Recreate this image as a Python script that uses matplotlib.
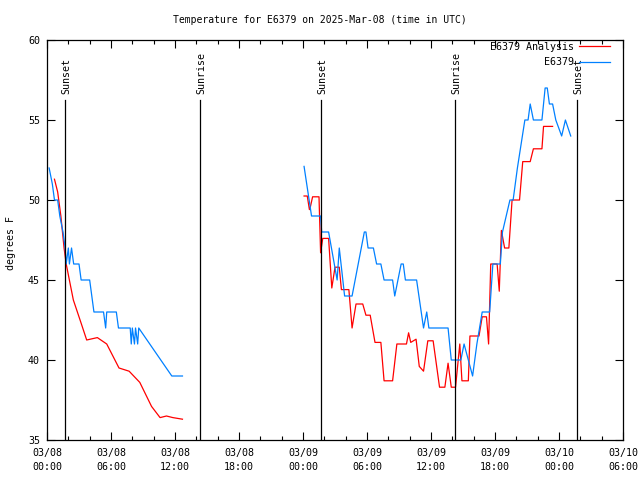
import numpy as np
import matplotlib
matplotlib.use("Agg")
import matplotlib.pyplot as plt

# horas desde 2025-03-08 00:00 UTC
analisis_t = [0.7, 1.0, 1.3, 1.6, 1.8, 2.47, 3.2, 3.72, 4.72, 5.6, 6.75, 7.7, 8.7, 9.8,
              10.6, 11.2, 11.8, 12.7, np.nan,
              24.1, 24.4, 24.6, 24.7, 24.9, 25.5, 25.65, 25.85, 26.4, 26.7, 27.0, 27.4,
              27.6, 28.3, 28.6, 28.97, 29.6, 29.9, 30.3, 30.75, 31.3, 31.6, 32.4, 32.8,
              33.7, 33.9, 34.1, 34.6, 34.9, 35.3, 35.7, 36.2, 36.8, 37.3, 37.6, 37.9,
              38.3, 38.7, 38.9, 39.5, 39.65, 40.5, 40.8, 41.2, 41.4, 41.6, 42.2, 42.4,
              42.6, 42.9, 43.3, 43.6, 44.3, 44.6, 45.3, 45.6, 46.4, 46.55, 47.4]
analisis_temp = [51.3, 50.5, 49, 47, 46, 43.75, 42.3, 41.25, 41.4, 41.0, 39.5, 39.3, 38.6,
                 37.1, 36.4, 36.5, 36.4, 36.3, np.nan,
                 50.25, 50.25, 49.4, 49.6, 50.2, 50.2, 46.7, 47.6, 47.6, 44.5, 45.8, 45.8,
                 44.4, 44.4, 42.0, 43.5, 43.5, 42.8, 42.8, 41.1, 41.1, 38.7, 38.7, 41.0,
                 41.0, 41.7, 41.1, 41.3, 39.6, 39.3, 41.2, 41.2, 38.3, 38.3, 39.8, 38.3,
                 38.3, 41.0, 38.7, 38.7, 41.5, 41.5, 42.7, 42.7, 41.0, 46.0, 46.0, 44.3,
                 48.1, 47.0, 47.0, 50.0, 50.0, 52.4, 52.4, 53.2, 53.2, 54.6, 54.6]

obs_t = [0.2, 0.5, 0.7, 1.0, 1.2, 1.5, 1.7, 1.8, 2.0, 2.1, 2.3, 2.5, 3.0, 3.2, 4.0, 4.4,
         5.3, 5.5, 5.6, 6.5, 6.7, 7.8, 7.9, 8.0, 8.2, 8.3, 8.5, 8.6, 11.7, 12.7, np.nan,
         24.1, 24.8, 25.65, 25.75, 26.4, 27.2, 27.4, 27.9, 28.6, 29.75, 29.9, 30.1, 30.6,
         30.9, 31.3, 31.6, 32.4, 32.6, 33.2, 33.4, 33.6, 34.65, 35.3, 35.6, 35.8, 37.6,
         37.9, 38.8, 39.1, 39.5, 39.9, 40.3, 40.8, 41.5, 41.8, 42.5, 42.7, 43.4, 43.7,
         44.1, 44.8, 45.1, 45.3, 45.6, 46.4, 46.7, 46.9, 47.1, 47.4, 47.7, 48.25, 48.6, 49.1]
obs_temp = [52, 51, 50, 50, 49, 48, 47, 46, 47, 46, 47, 46, 46, 45, 45, 43,
            43, 42, 43, 43, 42, 42, 41, 42, 41, 42, 41, 42, 39, 39, np.nan,
            52.1, 49, 49, 48, 48, 45, 47, 44, 44, 48, 48, 47, 47,
            46, 46, 45, 45, 44, 46, 46, 45, 45, 42, 43, 42, 42,
            40, 40, 41, 40, 39, 41, 43, 43, 46, 46, 48, 50, 50,
            52, 55, 55, 56, 55, 55, 57, 57, 56, 56, 55, 54, 55, 54]

eventos = ["Sunset", "Sunrise", "Sunset", "Sunrise", "Sunset"]
eventos_t = [1.69, 14.34, 25.69, 38.25, 49.7]

ticks_t = [0, 6, 12, 18, 24, 30, 36, 42, 48, 54]
ticks_lbl = ["03/08\n00:00", "03/08\n06:00", "03/08\n12:00", "03/08\n18:00",
             "03/09\n00:00", "03/09\n06:00", "03/09\n12:00", "03/09\n18:00",
             "03/10\n00:00", "03/10\n06:00"]

plt.rcParams['font.family'] = ['DejaVu Sans Mono']
plt.rcParams['font.size'] = 7.2

fig = plt.figure(figsize=(6.4, 4.8), dpi=100)
ax = fig.add_axes([47 / 640, 40 / 480, 576 / 640, 400 / 480])

ax.plot(analisis_t, analisis_temp, color='#ff0000', lw=0.9, label='E6379 Analysis')
ax.plot(obs_t, obs_temp, color='#0080ff', lw=0.9, label='E6379')

# lineas de salida/puesta del sol
for nombre, t in zip(eventos, eventos_t):
    ax.plot([t, t], [35, 56.25], color='black', lw=0.9)
    ax.text(t + 0.1, 56.6, nombre, rotation=90, ha='center', va='bottom')

ax.set_xlim(0, 54)
ax.set_ylim(35, 60)
ax.set_xticks(ticks_t)
ax.set_xticklabels(ticks_lbl, linespacing=1.5)
ax.set_xticks(np.arange(0, 55, 2), minor=True)
ax.set_yticks([35, 40, 45, 50, 55, 60])
ax.tick_params(which='both', direction='in', top=True, right=True, width=0.8)
ax.tick_params(which='major', length=6, pad=6)
ax.tick_params(which='minor', length=3)
ax.tick_params(axis='y', pad=5)
for s in ax.spines.values():
    s.set_linewidth(0.9)

ax.legend(loc='upper right', frameon=False, markerfirst=False,
          handlelength=3.1, borderpad=0, labelspacing=0.55, handletextpad=0.5,
          borderaxespad=0, bbox_to_anchor=((610 - 47) / 576, 0.996))

fig.text(0.5, 1 - 20 / 480, "Temperature for E6379 on 2025-Mar-08 (time in UTC)",
         ha='center', va='center', fontsize=7)
fig.text(11 / 640, 1 - 243 / 480, "degrees F", rotation=90, ha='center', va='center')

fig.savefig("out.png", dpi=100)
